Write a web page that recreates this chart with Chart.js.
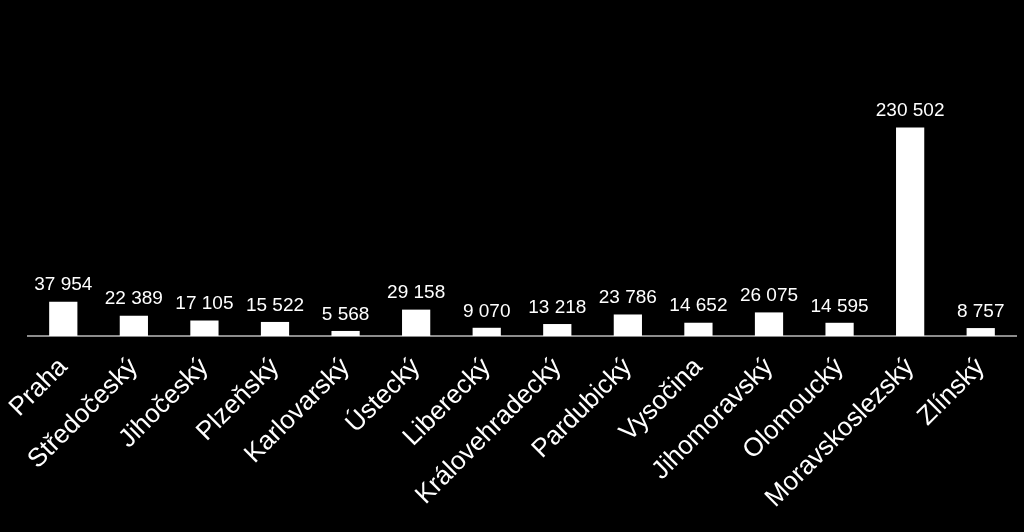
<!DOCTYPE html>
<html>
<head>
<meta charset="utf-8">
<script src="https://cdn.jsdelivr.net/npm/chart.js@4"></script>
<style>
  html, body { margin: 0; padding: 0; background: #000; }
  canvas { display: block; }
</style>
</head>
<body>
<canvas id="regionChart" width="1024" height="532"></canvas>
<script>
const regions = ['Praha', 'Středočeský', 'Jihočeský', 'Plzeňský', 'Karlovarský', 'Ústecký', 'Liberecký',
    'Královehradecký', 'Pardubický', 'Vysočina', 'Jihomoravský', 'Olomoucký', 'Moravskoslezský', 'Zlínský'];
const counts = [37954, 22389, 17105, 15522, 5568, 29158, 9070, 13218, 23786, 14652, 26075, 14595, 230502, 8757];
const yMax = 250000;

// "37 954" style numbers
const fmt = (v) => String(v).replace(/\B(?=(\d{3})+(?!\d))/g, ' ');

// draws the value above each bar
const valueLabels = {
    id: 'valueLabels',
    afterDatasetsDraw(chart) {
        const ctx = chart.ctx;
        const meta = chart.getDatasetMeta(0);
        ctx.save();
        ctx.fillStyle = '#fff';
        ctx.font = '19px "Liberation Sans", Arial, sans-serif';
        ctx.textAlign = 'center';
        ctx.textBaseline = 'bottom';
        meta.data.forEach((bar, i) => {
            ctx.fillText(fmt(counts[i]), bar.x, bar.y - 7);
        });
        ctx.restore();
    }
};

const ctx = document.getElementById('regionChart').getContext('2d');
const regionChart = new Chart(ctx, {
    type: 'bar',
    data: {
        labels: regions,
        datasets: [{
            data: counts,
            backgroundColor: '#fff',
            borderWidth: 0,
            barPercentage: 0.4,
            categoryPercentage: 1
        }]
    },
    options: {
        responsive: false,
        animation: false,
        layout: { padding: { top: 110, left: 28, right: 8, bottom: 10 } },
        plugins: {
            legend: { display: false },
            tooltip: { enabled: false }
        },
        scales: {
            x: {
                grid: { display: false },
                border: { display: true, color: '#8c8c8c', width: 2 },
                ticks: {
                    color: '#fff',
                    font: { family: '"Liberation Sans", Arial, sans-serif', size: 26 },
                    minRotation: 45,
                    maxRotation: 45,
                    padding: 8
                }
            },
            y: {
                display: false,
                min: 0,
                max: yMax
            }
        }
    },
    plugins: [valueLabels]
});
</script>
</body>
</html>
